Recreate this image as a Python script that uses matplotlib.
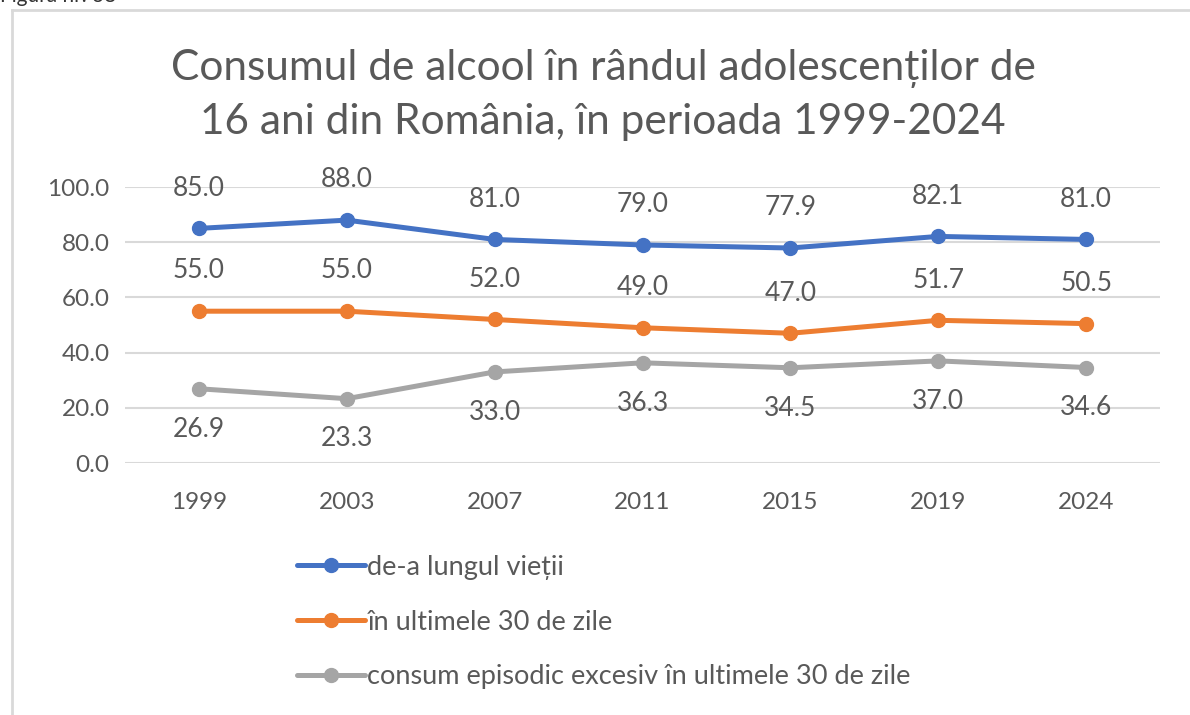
import matplotlib
matplotlib.use("Agg")
import matplotlib.pyplot as plt
from matplotlib.lines import Line2D

years = ["1999", "2003", "2007", "2011", "2015", "2019", "2024"]
lifetime = [85.0, 88.0, 81.0, 79.0, 77.9, 82.1, 81.0]
last30 = [55.0, 55.0, 52.0, 49.0, 47.0, 51.7, 50.5]
binge30 = [26.9, 23.3, 33.0, 36.3, 34.5, 37.0, 34.6]
series_names = ["de-a lungul vieții", "în ultimele 30 de zile",
                "consum episodic excesiv în ultimele 30 de zile"]
title = "Consumul de alcool în rândul adolescenților de\n16 ani din România, în perioada 1999-2024"
yticks = [0, 20, 40, 60, 80, 100]

plt.rcParams['font.family'] = ['Lato', 'DejaVu Sans']
TXT = '#595959'
W, H = 1190, 715
fig = plt.figure(figsize=(W/100, H/100), dpi=100)

# axes area in pixels
x0, x1 = 125, 1160
y_top, y_bot = 187, 463
ax = fig.add_axes([x0/W, 1 - y_bot/H, (x1-x0)/W, (y_bot-y_top)/H])
ax.set_xlim(-0.5, len(years)-0.5)
ax.set_ylim(0, 100)

colors = ['#4472C4', '#ED7D31', '#A5A5A5']
data = [lifetime, last30, binge30]
xs = list(range(len(years)))
handles = []
for vals, c, name in zip(data, colors, series_names):
    h, = ax.plot(xs, vals, color=c, lw=3.6, marker='o', ms=10, solid_capstyle='round', zorder=3, label=name, clip_on=False)
    handles.append(h)

LFS = 19
for i, v in enumerate(lifetime):
    ax.annotate(f"{v:.1f}", (i, v), xytext=(0, 29), textcoords='offset points', ha='center', va='center', fontsize=LFS, color=TXT)
for i, v in enumerate(last30):
    ax.annotate(f"{v:.1f}", (i, v), xytext=(0, 29), textcoords='offset points', ha='center', va='center', fontsize=LFS, color=TXT)
for i, v in enumerate(binge30):
    ax.annotate(f"{v:.1f}", (i, v), xytext=(0, -29), textcoords='offset points', ha='center', va='center', fontsize=LFS, color=TXT)

ax.set_yticks(yticks)
ax.set_yticklabels([f"{t:.1f}" for t in yticks], fontsize=17.5, color=TXT)
ax.set_xticks(xs)
ax.set_xticklabels(years, fontsize=17.5, color=TXT)
ax.tick_params(axis='y', length=0, pad=11)
ax.tick_params(axis='x', length=0, pad=21)
ax.grid(axis='y', color='#D9D9D9', lw=1.5, zorder=0)
for s in ax.spines.values():
    s.set_visible(False)

fig.text(603/W, 1 - 95/H, title, ha='center', va='center', fontsize=30.5, color=TXT, linespacing=1.5)

leg = fig.legend(handles=handles, loc='center left', bbox_to_anchor=(297/W, 1 - 622/H),
                 frameon=False, fontsize=19.5, labelcolor=TXT, handlelength=2.5,
                 handletextpad=0.1, labelspacing=1.1, borderaxespad=0, borderpad=0)

# outer frame
fig.add_artist(Line2D([12/W, 12/W], [1 - 10/H, 0], transform=fig.transFigure, color='#D9D9D9', lw=2))
fig.add_artist(Line2D([12/W, 1], [1 - 10/H, 1 - 10/H], transform=fig.transFigure, color='#D9D9D9', lw=2))
fig.text(0.5/W, 1 + 4/H, "Figura nr. 38", ha='left', va='center', fontsize=15, color='#333333')

fig.savefig("out.png", dpi=100)
